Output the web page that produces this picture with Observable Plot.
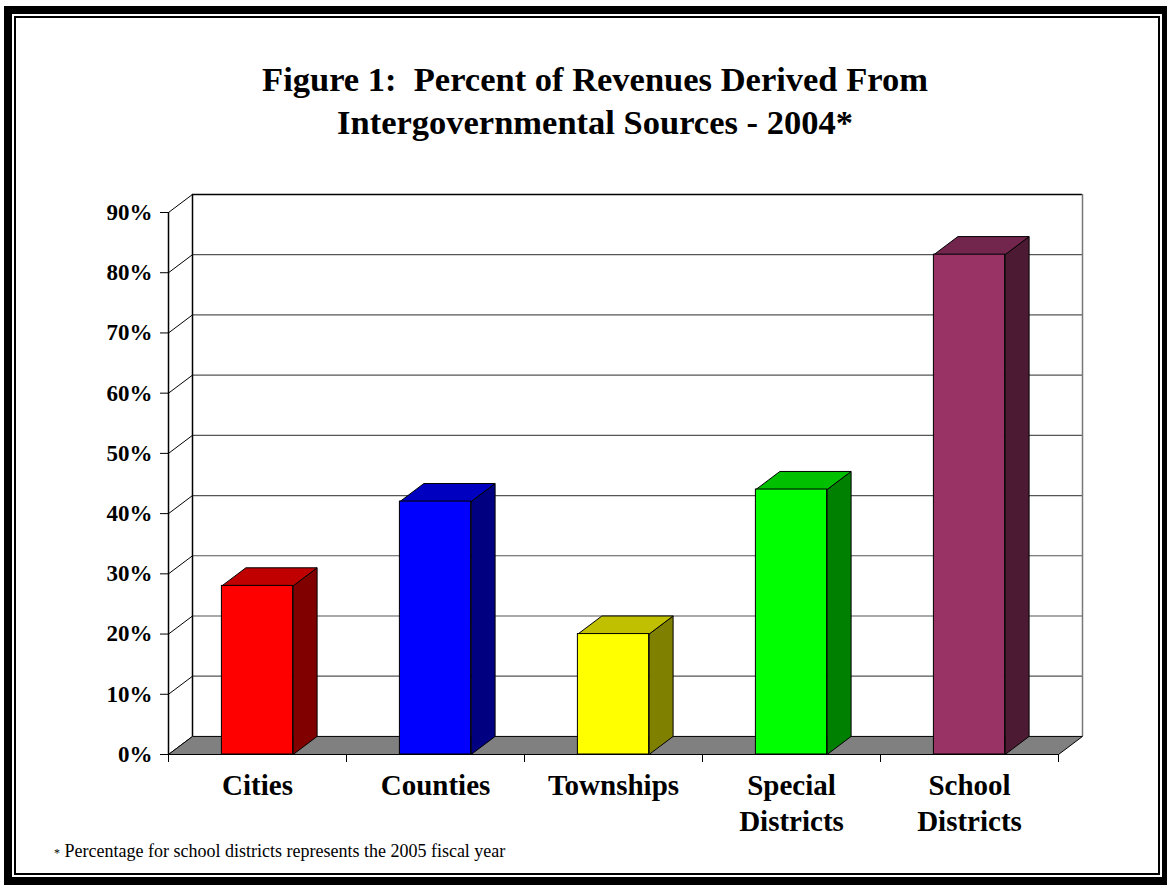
<!DOCTYPE html>
<html>
<head>
<meta charset="utf-8">
<script src="https://cdn.jsdelivr.net/npm/d3@7"></script>
<script src="https://cdn.jsdelivr.net/npm/@observablehq/plot@0.6"></script>
<style>
  html, body { margin: 0; padding: 0; background: #fff; }
  #page { position: relative; width: 1167px; height: 886px; overflow: hidden; background: #fff; }
  #chart { position: absolute; left: 0; top: 0; }
  .frame-outer { position: absolute; left: 4px; top: 6px; width: 1150px; height: 863px; border: 8px solid #000; }
  .frame-inner { position: absolute; left: 14px; top: 16px; width: 1146px; height: 859px; border: 2px solid #000; box-sizing: border-box; }
  #title { position: absolute; left: 95px; top: 58px; width: 1000px; text-align: center;
           font-family: "Liberation Serif", "Times New Roman", serif; font-weight: bold; font-size: 34.5px;
           line-height: 43px; white-space: pre; color: #000; }
  #note { position: absolute; left: 54px; top: 841px; font-family: "Liberation Serif", "Times New Roman", serif;
          font-size: 18px; color: #000; white-space: pre; }
  #note .ast { font-size: 12px; }
</style>
</head>
<body>
<div id="page">
  <div id="chart"></div>
  <div id="title"></div>
  <div id="note"></div>
  <div class="frame-outer"></div>
  <div class="frame-inner"></div>
</div>
<script>
// ---- data ----
const categories = ["Cities", "Counties", "Townships", "Special Districts", "School Districts"];
const categoryLabels = ["Cities", "Counties", "Townships", "Special\nDistricts", "School\nDistricts"];
const values = [28, 42, 20, 44, 83];
const yTicks = [0, 10, 20, 30, 40, 50, 60, 70, 80, 90];
const yTickLabels = ["0%", "10%", "20%", "30%", "40%", "50%", "60%", "70%", "80%", "90%"];
const titleLines = ["Figure 1:  Percent of Revenues Derived From", "Intergovernmental Sources - 2004*"];
const noteText = "Percentage for school districts represents the 2005 fiscal year";

// ---- styles ----
const frontColors = ["#FF0000", "#0000FF", "#FFFF00", "#00FF00", "#993366"];
const topColors   = ["#C00000", "#0000C0", "#C0C000", "#00C000", "#73264D"];
const sideColors  = ["#800000", "#000080", "#808000", "#008000", "#4D1A33"];

document.getElementById("title").textContent = titleLines.join("\n");
document.getElementById("note").innerHTML = '<span class="ast">*</span> ' + noteText;

// depth of the 3-D box, expressed in data units
const depthX = 24 / 178;
const depthY = 3;
const nCat = categories.length;
const barHalf = 0.2;
const yMax = yTicks[yTicks.length - 1];

const face = (pts, fill) => Plot.line([...pts, pts[0]], {
  x: "x", y: "y", fill, stroke: "#000", strokeWidth: 1, strokeLinejoin: "miter", strokeLinecap: "butt"
});

const bars = [];
values.forEach((v, i) => {
  const x1 = i + 0.5 - barHalf, x2 = i + 0.5 + barHalf;
  // side face
  bars.push(face([{x: x2, y: 0}, {x: x2 + depthX, y: depthY}, {x: x2 + depthX, y: v + depthY}, {x: x2, y: v}], sideColors[i]));
  // top face
  bars.push(face([{x: x1, y: v}, {x: x2, y: v}, {x: x2 + depthX, y: v + depthY}, {x: x1 + depthX, y: v + depthY}], topColors[i]));
});

const barData = values.map((v, i) => ({cat: categories[i], i, v}));
const gridTicks = yTicks.filter(t => t > 0);

const chart = Plot.plot({
  width: 1167,
  height: 886,
  marginLeft: 168,
  marginRight: 109,
  marginTop: 212,
  marginBottom: 132,
  x: {type: "linear", domain: [0, nCat], axis: null},
  y: {type: "linear", domain: [0, yMax], axis: null},
  style: {background: "transparent", fontFamily: "'Liberation Serif', 'Times New Roman', serif", color: "#000", overflow: "visible"},
  marks: [
    // back wall gridlines
    Plot.ruleY(gridTicks, {
      y: d => d + depthY, x1: depthX, x2: nCat + depthX,
      stroke: d => d === yMax ? "#000" : "#555", strokeWidth: d => d === yMax ? 1.5 : 1.2
    }),
    // back wall verticals
    Plot.ruleX([depthX], {y1: depthY, y2: yMax + depthY, stroke: "#000", strokeWidth: 1.5}),
    Plot.ruleX([nCat + depthX], {y1: depthY, y2: yMax + depthY, stroke: "#777", strokeWidth: 1.5}),
    // side wall diagonals
    Plot.link(yTicks, {x1: 0, y1: d => d, x2: depthX, y2: d => d + depthY, stroke: "#000", strokeWidth: 1}),
    // floor
    face([{x: 0, y: 0}, {x: nCat, y: 0}, {x: nCat + depthX, y: depthY}, {x: depthX, y: depthY}], "#808080"),
    // bars: side and top faces
    ...bars,
    // bars: front faces
    Plot.rectY(barData, {
      x1: d => d.i + 0.5 - barHalf, x2: d => d.i + 0.5 + barHalf, y1: 0, y2: "v",
      fill: d => frontColors[d.i], stroke: "#000", strokeWidth: 1
    }),
    // front value axis line
    Plot.ruleX([0], {y1: 0, y2: yMax, stroke: "#000", strokeWidth: 1.5}),
    Plot.axisY({
      ticks: yTicks, tickSize: 8, tickPadding: 8,
      tickFormat: d => yTickLabels[yTicks.indexOf(d)],
      fontSize: 23, fontWeight: "bold", stroke: "#000"
    }),
    Plot.axisX({
      ticks: d3.range(nCat + 1), tickSize: 8, tickFormat: () => "", stroke: "#000"
    }),
    // category labels
    Plot.text(categoryLabels, {
      x: (d, i) => i + 0.5, y: 0, text: d => d, lineAnchor: "top", dy: 15,
      fontSize: 29, fontWeight: "bold", lineHeight: 36 / 29, fill: "#000"
    })
  ]
});
document.getElementById("chart").appendChild(chart);
</script>
</body>
</html>
